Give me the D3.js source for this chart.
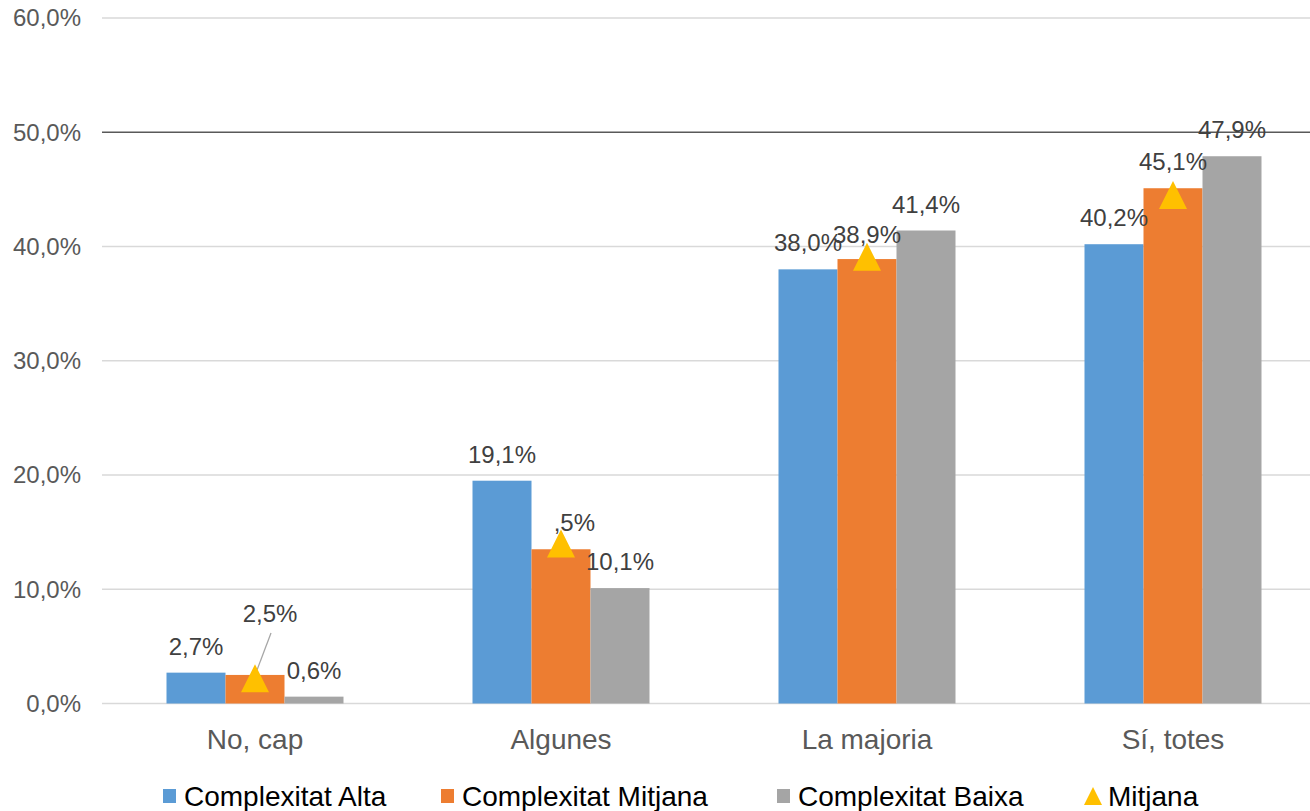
<!DOCTYPE html>
<html lang="ca">
<head>
    <meta charset="UTF-8">
    <title>Complexitat</title>
    <script src="https://d3js.org/d3.v7.min.js"></script>
    <style>
        body { margin: 0; background: #fff; }
        svg { display: block; font-family: "Liberation Sans", Arial, sans-serif; }
    </style>
</head>
<body>
    <svg></svg>
    <script>
        // categories and series
        const categories = ["No, cap", "Algunes", "La majoria", "Sí, totes"];
        const seriesNames = ["Complexitat Alta", "Complexitat Mitjana", "Complexitat Baixa"];
        const alta = [2.7, 19.5, 38.0, 40.2];
        const mitjanaC = [2.5, 13.5, 38.9, 45.1];
        const baixa = [0.6, 10.1, 41.4, 47.9];
        const mitjana = [2.2, 14.0, 39.1, 44.5];

        // data labels as printed on the chart
        const altaLabels = ["2,7%", "19,1%", "38,0%", "40,2%"];
        const mitjanaCLabels = ["2,5%", ",5%", "38,9%", "45,1%"];
        const baixaLabels = ["0,6%", "10,1%", "41,4%", "47,9%"];

        const yTicks = [0, 10, 20, 30, 40, 50, 60];
        const colors = ["#5B9BD5", "#ED7D31", "#A5A5A5"];
        const triColor = "#FFC000";

        const width = 1310, height = 811;
        const plotLeft = 102, plotRight = 1326, plotTop = 18, plotBottom = 703.5;

        const svg = d3.select("svg").attr("width", width).attr("height", height);

        const y = d3.scaleLinear().domain([0, 60]).range([plotBottom, plotTop]);
        const x = d3.scaleBand().domain(categories).range([plotLeft, plotRight])
            .paddingInner(129 / 306).paddingOuter(129 / 306 / 2);
        const x1 = d3.scaleBand().domain(seriesNames).range([0, x.bandwidth()]);

        // excel-style marker: triangle as wide as it is tall, centred on the point
        const excelTriangle = {
            draw(context, size) {
                const s = Math.sqrt(size) / 2;
                context.moveTo(0, -s);
                context.lineTo(s, s);
                context.lineTo(-s, s);
                context.closePath();
            }
        };

        // gridlines
        svg.append("g").selectAll("line")
            .data(yTicks)
            .join("line")
            .attr("x1", plotLeft).attr("x2", width)
            .attr("y1", d => y(d)).attr("y2", d => y(d))
            .attr("stroke", d => d === 50 ? "#595959" : "#d9d9d9")
            .attr("stroke-width", 1.3);

        // y tick labels
        svg.append("g").selectAll("text")
            .data(yTicks)
            .join("text")
            .attr("x", 81).attr("y", d => y(d))
            .attr("dy", "0.35em")
            .attr("text-anchor", "end")
            .attr("font-size", 24)
            .attr("fill", "#595959")
            .text(d => d.toFixed(1).replace(".", ",") + "%");

        // bars
        const series = [alta, mitjanaC, baixa];
        const rows = [];
        series.forEach((vals, s) => vals.forEach((v, i) => rows.push({ s, i, v })));

        svg.append("g").selectAll("rect")
            .data(rows)
            .join("rect")
            .attr("x", d => x(categories[d.i]) + x1(seriesNames[d.s]))
            .attr("y", d => y(d.v))
            .attr("width", x1.bandwidth())
            .attr("height", d => y(0) - y(d.v))
            .attr("fill", d => colors[d.s]);

        const cx = (s, i) => x(categories[i]) + x1(seriesNames[s]) + x1.bandwidth() / 2;

        // data labels
        const labelG = svg.append("g")
            .attr("font-size", 24).attr("fill", "#404040");

        labelG.selectAll(".alta")
            .data(alta)
            .join("text")
            .attr("x", (d, i) => cx(0, i))
            .attr("y", (d, i) => y(d) - 18)
            .attr("text-anchor", "middle")
            .text((d, i) => altaLabels[i]);

        labelG.selectAll(".baixa")
            .data(baixa)
            .join("text")
            .attr("x", (d, i) => cx(2, i))
            .attr("y", (d, i) => y(d) - 18)
            .attr("text-anchor", "middle")
            .text((d, i) => baixaLabels[i]);

        // orange labels: first one moved up with a leader line
        labelG.selectAll(".mitjc")
            .data(mitjanaC)
            .join("text")
            .attr("x", (d, i) => i === 0 ? cx(1, i) + 15 : cx(1, i) + 34)
            .attr("y", (d, i) => i === 0 ? y(d) - 53 : y(d) - (i === 2 ? 16 : 18))
            .attr("text-anchor", (d, i) => i === 0 ? "middle" : "end")
            .text((d, i) => mitjanaCLabels[i]);

        svg.append("line")
            .attr("x1", cx(1, 0) + 16).attr("y1", y(mitjanaC[0]) - 42)
            .attr("x2", cx(1, 0)).attr("y2", y(mitjana[0]) - 3)
            .attr("stroke", "#a6a6a6").attr("stroke-width", 1.3);

        // Mitjana triangles
        const tri = d3.symbol().type(excelTriangle).size(28 * 28);
        svg.append("g").selectAll("path")
            .data(mitjana)
            .join("path")
            .attr("d", tri)
            .attr("transform", (d, i) => `translate(${cx(1, i)},${y(d)})`)
            .attr("fill", triColor);

        // category labels
        svg.append("g").selectAll("text")
            .data(categories)
            .join("text")
            .attr("x", d => x(d) + x.bandwidth() / 2)
            .attr("y", 749)
            .attr("text-anchor", "middle")
            .attr("font-size", 28)
            .attr("fill", "#595959")
            .text(d => d);

        // legend
        const legendX = [163, 441, 777, 1083];
        const legendItems = seriesNames.concat(["Mitjana"]);
        const lg = svg.append("g").selectAll("g")
            .data(legendItems)
            .join("g")
            .attr("transform", (d, i) => `translate(${legendX[i]},796)`);

        lg.filter((d, i) => i < 3).append("rect")
            .attr("x", 0).attr("y", -7).attr("width", 13).attr("height", 14)
            .attr("fill", (d, i) => colors[i]);
        lg.filter((d, i) => i === 3).append("path")
            .attr("d", d3.symbol().type(excelTriangle).size(18 * 18))
            .attr("transform", "translate(10,0)")
            .attr("fill", triColor);

        lg.append("text")
            .attr("x", (d, i) => i === 3 ? 25 : 21)
            .attr("y", 0).attr("dy", "0.35em")
            .attr("font-size", 28)
            .attr("fill", "#000")
            .text(d => d);
    </script>
</body>
</html>
